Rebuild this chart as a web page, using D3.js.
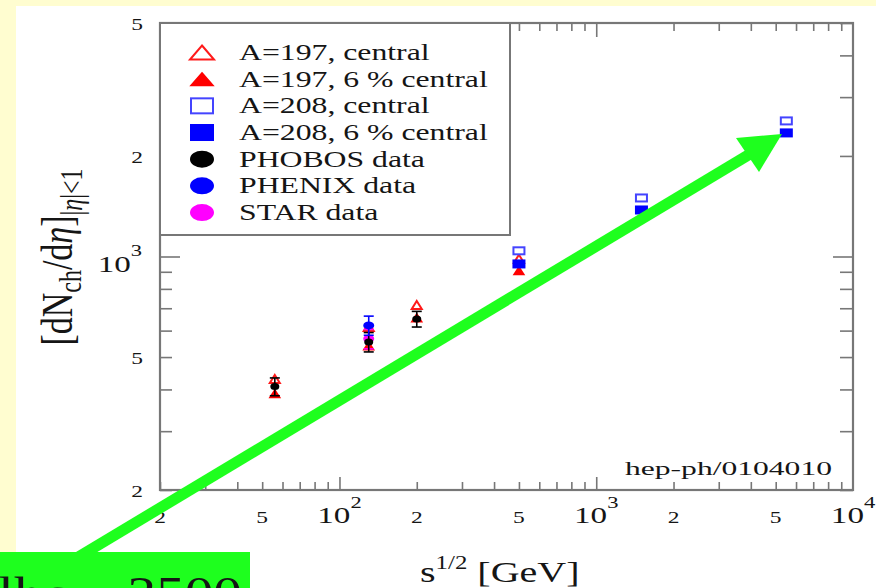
<!DOCTYPE html>
<html>
<head>
<meta charset="utf-8">
<script src="https://cdn.jsdelivr.net/npm/d3@7"></script>
<style>
  body { margin: 0; background: #fffdd0; }
  svg { display: block; }
  text { font-family: "Liberation Serif", "DejaVu Serif", serif; fill: #151515; }
</style>
</head>
<body>
<script>
// values (sqrt(s) in GeV, dN/deta)
var a197CentralE = [56, 130, 200, 500];
var a197CentralN = [430, 615, 716, 985];
var a197SixE = [56, 130, 200, 500];
var a197SixN = [388, 540, 655, 906];
var a208CentralE = [500, 1500, 5500];
var a208CentralN = [1040, 1497, 2546];
var a208SixE = [500, 1500, 5500];
var a208SixN = [950, 1378, 2344];
var phobosE = [56, 130, 200];
var phobosN = [408, 555, 650];
var phobosErr = [25, 37, 35];
var phenixE = [130];
var phenixN = [622];
var phenixErr = [41];
var starE = [130];
var starN = [567];
var starErr = [38];

var xTickVals = [20, 50, 100, 200, 500, 1000, 2000, 5000, 10000];
var xTickText = ["2", "5", "10^2", "2", "5", "10^3", "2", "5", "10^4"];
var yTickVals = [200, 500, 1000, 2000, 5000];
var yTickText = ["2", "5", "10^3", "2", "5"];
var legendLabels = ["A=197, central", "A=197, 6 % central", "A=208, central",
                    "A=208, 6 % central", "PHOBOS data", "PHENIX data", "STAR data"];
var legendKinds = ["triOpen", "triFill", "sqOpen", "sqFill", "dotBlack", "dotBlue", "dotMag"];

var W = 876, H = 588;
var SX = 1.38; // the picture is stretched sideways
var L = 160, R = 853, T = 23, B = 490;
var axisCol = "#777";
var green = "#1eff1e";

var svg = d3.select("body").append("svg").attr("width", W).attr("height", H);
svg.append("rect").attr("x", 16).attr("y", 6).attr("width", W - 16).attr("height", H - 6).attr("fill", "#fff");

var x = d3.scaleLog().domain([20, 10000]).range([L, R]);
var y = d3.scaleLog().domain([200, 5000]).range([B, T]);

function minorTicks(lo, hi) {
  var out = [];
  for (var d = 1; d <= 1e4; d *= 10)
    for (var k = 1; k < 10; k++) { var v = k * d; if (v >= lo && v <= hi) out.push(v); }
  return out;
}
var xMinor = minorTicks(20, 10000).filter(function(v) { return [100, 1000, 10000].indexOf(v) < 0; });
var xMajor = [100, 1000];
var yMinor = minorTicks(200, 5000).filter(function(v) { return v !== 1000; });
var yMajor = [1000];

function ticks(axis, vals, size, tr) {
  var g = svg.append("g").attr("transform", tr)
    .call(axis.tickValues(vals).tickSize(size).tickSizeOuter(0).tickFormat(""));
  g.select(".domain").remove();
  g.selectAll("line").attr("stroke", axisCol).attr("stroke-width", 1.6);
}
ticks(d3.axisBottom(x), xMinor, -8, "translate(0," + B + ")");
ticks(d3.axisBottom(x), xMajor, -13, "translate(0," + B + ")");
ticks(d3.axisTop(x), xMinor, -8, "translate(0," + T + ")");
ticks(d3.axisTop(x), xMajor, -14, "translate(0," + T + ")");
ticks(d3.axisLeft(y), yMinor, -12, "translate(" + L + ",0)");
ticks(d3.axisLeft(y), yMajor, -20, "translate(" + L + ",0)");
ticks(d3.axisRight(y), yMinor, -13, "translate(" + R + ",0)");
ticks(d3.axisRight(y), yMajor, -20, "translate(" + R + ",0)");

svg.append("rect").attr("x", L).attr("y", T).attr("width", R - L).attr("height", B - T)
  .attr("fill", "none").attr("stroke", axisCol).attr("stroke-width", 2.2);

// text with optional ^superscript, stretched sideways
function label(px, py, str, size, anchor) {
  var t = svg.append("text")
    .attr("transform", "translate(" + px + "," + py + ") scale(" + SX + ",1)")
    .attr("font-size", size).attr("text-anchor", anchor || "start");
  var parts = str.split("^");
  t.append("tspan").text(parts[0]);
  if (parts[1]) t.append("tspan").attr("font-size", size * 0.68).attr("dy", -size * 0.63).text(parts[1]);
  return t;
}

xTickVals.forEach(function(v, i) {
  var s = xTickText[i];
  label(x(v), 523, s, s.length > 1 ? 24 : 17, "middle");
});
yTickVals.forEach(function(v, i) {
  var s = yTickText[i];
  if (s.length > 1) label(142, y(v) + 15, s, 24, "end");
  else label(143, y(v) + 7, s, 17, "end");
});

// axis titles
var xl = svg.append("text").attr("transform", "translate(420,582) scale(" + SX + ",1)").attr("font-size", 29);
xl.append("tspan").text("s");
xl.append("tspan").attr("font-size", 18).attr("dy", -13).text("1/2");
xl.append("tspan").attr("dy", 13).text(" [GeV]");

var yl = svg.append("text").attr("transform", "translate(72,257) rotate(-90) scale(1,1.3)")
  .attr("font-size", 34).attr("text-anchor", "middle");
yl.append("tspan").text("[dN");
yl.append("tspan").attr("font-size", 24).attr("dy", 7).text("ch");
yl.append("tspan").attr("dy", -7).text("/d");
yl.append("tspan").attr("font-style", "italic").text("η");
yl.append("tspan").text("]");
yl.append("tspan").attr("font-size", 24).attr("dy", 8).text("|");
yl.append("tspan").attr("font-size", 24).attr("font-style", "italic").text("η");
yl.append("tspan").attr("font-size", 24).text("|<1");

svg.append("text").attr("x", 625).attr("y", 475).attr("font-size", 19)
  .attr("textLength", 207).attr("lengthAdjust", "spacingAndGlyphs").text("hep-ph/0104010");

// markers
var styles = {
  triOpen:  { shape: "tri", fill: "#fff", stroke: "#ff1a1a" },
  triFill:  { shape: "tri", fill: "#ff0000", stroke: "#ff0000" },
  sqOpen:   { shape: "sq", fill: "#fff", stroke: "#4444ff" },
  sqFill:   { shape: "sq", fill: "#0000ff", stroke: "#0000ff" },
  dotBlack: { shape: "dot", fill: "#000", stroke: "#000" },
  dotBlue:  { shape: "dot", fill: "#0000ff", stroke: "#0000ff" },
  dotMag:   { shape: "dot", fill: "#ff00ff", stroke: "#ff00ff" }
};
function marker(g, kind, cx, cy, w, h) {
  var st = styles[kind], m;
  if (st.shape === "tri")
    m = g.append("path").attr("d", "M" + cx + "," + (cy - h / 2) + "L" + (cx + w / 2) + "," + (cy + h / 2) +
      "L" + (cx - w / 2) + "," + (cy + h / 2) + "Z");
  else if (st.shape === "sq")
    m = g.append("rect").attr("x", cx - w / 2).attr("y", cy - h / 2).attr("width", w).attr("height", h);
  else
    m = g.append("ellipse").attr("cx", cx).attr("cy", cy).attr("rx", w / 2).attr("ry", h / 2);
  m.attr("fill", st.fill).attr("stroke", st.stroke).attr("stroke-width", 2);
}

function errBars(es, ns, errs, col) {
  var g = svg.append("g").attr("stroke", col).attr("stroke-width", 1.6);
  es.forEach(function(e, i) {
    var cx = x(e), y0 = y(ns[i] - errs[i]), y1 = y(ns[i] + errs[i]);
    g.append("line").attr("x1", cx).attr("x2", cx).attr("y1", y0).attr("y2", y1);
    g.append("line").attr("x1", cx - 5).attr("x2", cx + 5).attr("y1", y0).attr("y2", y0);
    g.append("line").attr("x1", cx - 5).attr("x2", cx + 5).attr("y1", y1).attr("y2", y1);
  });
}
function series(es, ns, kind, w, h) {
  var g = svg.append("g");
  es.forEach(function(e, i) { marker(g, kind, x(e), y(ns[i]), w, h); });
}

series(a197CentralE, a197CentralN, "triOpen", 10, 8);
series(a208CentralE, a208CentralN, "sqOpen", 11, 7);
series(a197SixE, a197SixN, "triFill", 9, 7);
series(a208SixE, a208SixN, "sqFill", 11, 7);
errBars(starE, starN, starErr, "#ff00ff");
series(starE, starN, "dotMag", 9, 6);
errBars(phobosE, phobosN, phobosErr, "#000");
series(phobosE, phobosN, "dotBlack", 7, 5);
errBars(phenixE, phenixN, phenixErr, "#0000ff");
series(phenixE, phenixN, "dotBlue", 9, 6);

// legend
var lg = svg.append("g");
lg.append("rect").attr("x", L).attr("y", T).attr("width", 350).attr("height", 212)
  .attr("fill", "#fff").attr("stroke", axisCol).attr("stroke-width", 2);
legendLabels.forEach(function(s, i) {
  var base = 60 + i * 26.67;
  var k = legendKinds[i];
  var sz = k === "triOpen" ? [24, 14] : k === "triFill" ? [21, 12] : [22, 15];
  marker(lg, k, 202, base - 7.5, sz[0], sz[1]);
  label(239, base, s, 23, "start");
});

// green arrow and box on top
svg.append("line").attr("x1", 10).attr("y1", 598).attr("x2", 750).attr("y2", 154)
  .attr("stroke", green).attr("stroke-width", 11);
svg.append("path").attr("d", "M782,134L736,138L759,172Z").attr("fill", green);
svg.append("rect").attr("x", 0).attr("y", 552).attr("width", 250).attr("height", 40).attr("fill", green);
svg.append("text").attr("x", -2).attr("y", 609).attr("font-size", 46)
  .attr("textLength", 244).attr("lengthAdjust", "spacingAndGlyphs").attr("fill", "#000")
  .text("lhc ~ 2500");
</script>
</body>
</html>
